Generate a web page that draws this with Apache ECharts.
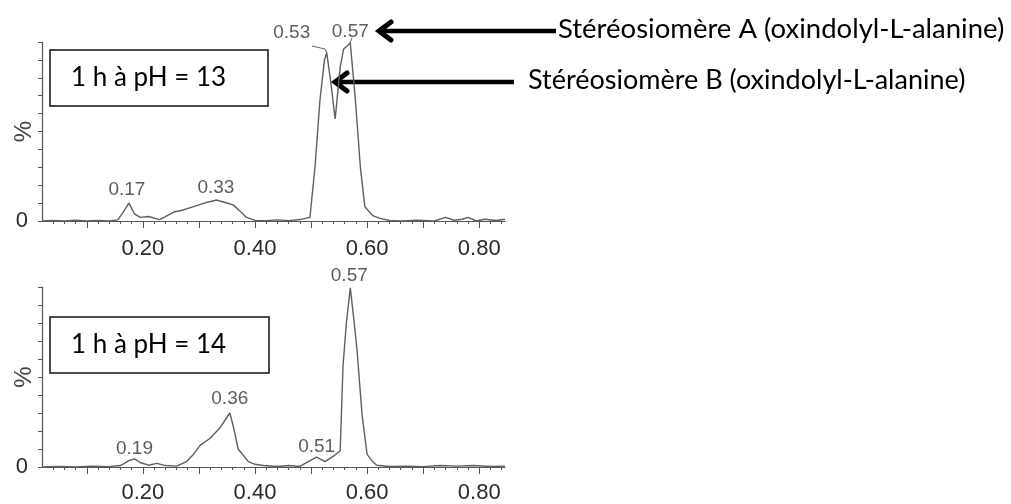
<!DOCTYPE html>
<html>
<head>
<meta charset="utf-8">
<script src="https://cdn.jsdelivr.net/npm/echarts@6/dist/echarts.min.js"></script>
<style>html,body{margin:0;padding:0;background:#fff}#c{width:1011px;height:504px}</style>
</head>
<body>
<div id="c"></div>
<script>
// pH 13 chromatogram (Rf, %)
const topX = [0.02,0.04,0.06,0.08,0.10,0.12,0.14,0.155,0.165,0.175,0.185,0.195,0.21,0.23,0.24,0.255,0.27,0.285,0.30,0.315,0.332,0.345,0.361,0.375,0.385,0.40,0.42,0.44,0.46,0.48,0.498,0.507,0.516,0.524,0.528,0.535,0.543,0.552,0.558,0.57,0.579,0.588,0.596,0.61,0.623,0.64,0.66,0.69,0.72,0.74,0.755,0.77,0.78,0.795,0.81,0.83,0.846];
const topY = [0,0.3,0,0.4,0,0.3,0,0.6,5,10,4,2,2.5,0.8,2.5,5,6,7.5,9,10.5,11.7,10.5,9,5,2,0.3,0.2,0.6,0.2,0.8,2,30,68,90,94,78,57,86,96,99.4,68,30,8,3,1.5,0.3,0,0.4,0,2,0.4,1,2,0,1,0.3,1];
// pH 14 chromatogram
const botX = [0.02,0.05,0.08,0.11,0.14,0.16,0.175,0.185,0.195,0.21,0.225,0.24,0.26,0.278,0.29,0.302,0.32,0.338,0.355,0.361,0.37,0.388,0.40,0.415,0.44,0.46,0.48,0.495,0.51,0.525,0.54,0.552,0.557,0.563,0.57,0.577,0.582,0.591,0.60,0.61,0.617,0.64,0.67,0.70,0.73,0.76,0.79,0.82,0.846];
const botY = [0,0.3,0,0.4,0.2,0.8,3.5,4.5,2.5,1,2,0.8,0.5,3,7,12,16,22,30,23,10,3,1.5,0.8,0.3,0.8,0.3,3,5.5,3,6,9,56,80,99.5,80,65,29,7,3,1,0.3,0.5,0.2,0.8,0.5,0.8,0.3,0.5];
// peak annotations
const topPeakX = [0.175,0.332,0.528,0.57];
const topPeakY = [10,11.7,94,99.4];
const topPeakLabels = ['0.17','0.33','0.53','0.57'];
const botPeakX = [0.185,0.355,0.51,0.57];
const botPeakY = [4.5,30,5.5,99.5];
const botPeakLabels = ['0.19','0.36','0.51','0.57'];
// axis ticks
const xLabelValues = [0.2,0.4,0.6,0.8];
const xMidTicks = [0.1,0.2,0.3,0.4,0.5,0.6,0.7,0.8];
const xMinorTicks = [0.04,0.06,0.08,0.12,0.14,0.16,0.18,0.22,0.24,0.26,0.28,0.32,0.34,0.36,0.38,0.42,0.44,0.46,0.48,0.52,0.54,0.56,0.58,0.62,0.64,0.66,0.68,0.72,0.74,0.76,0.78,0.82,0.84];
const yTicks = [0,10,20,30,40,50,60,70,80,90,100];
const boxTexts = ['1 h à pH = 13','1 h à pH = 14'];
const calloutA = 'Stéréosiomère A (oxindolyl-L-alanine)';
const calloutB = 'Stéréosiomère B (oxindolyl-L-alanine)';

const topOffsets = [[-2,-13],[-1,-12],[-35,-20],[0,-11]];
const botOffsets = [[0,-10],[0,-14],[0,-10],[-1,-12]];

const AX = '#555';
const NUMFONT = 'Liberation Sans';
function xMain(g){
  return {gridIndex:g,type:'value',min:0.02,max:0.846,
    axisLine:{show:true,lineStyle:{color:AX,width:1.2}},
    axisTick:{show:true,customValues:xMidTicks,length:7,lineStyle:{color:AX}},
    axisLabel:{show:true,customValues:xLabelValues,margin:g===0?17:15,fontFamily:NUMFONT,fontSize:22,color:'#2a2a2a',
      formatter:v=>v.toFixed(2)},
    splitLine:{show:false}};
}
function xMinor(g){
  return {gridIndex:g,type:'value',min:0.02,max:0.846,position:'bottom',
    axisLine:{show:false},
    axisTick:{show:true,customValues:xMinorTicks,length:3,lineStyle:{color:AX}},
    axisLabel:{show:false},splitLine:{show:false}};
}
function yAx(g){
  return {gridIndex:g,type:'value',min:0,max:100,
    axisLine:{show:true,lineStyle:{color:AX,width:1.2}},
    axisTick:{show:true,customValues:yTicks,length:4,lineStyle:{color:AX}},
    axisLabel:{show:true,customValues:[0],margin:14,fontFamily:NUMFONT,fontSize:22,color:'#2a2a2a'},
    splitLine:{show:false},
    name:'%',nameLocation:'middle',nameRotate:90,nameGap:6,nameMoveOverlap:false,
    nameTextStyle:{fontFamily:NUMFONT,fontSize:24,color:'#444'}};
}
function zip(a,b){return a.map((v,i)=>[v,b[i]]);}
function peakSeries(xi,yi,xs,ys,labels,offs){
  return {type:'scatter',xAxisIndex:xi,yAxisIndex:yi,symbolSize:1,itemStyle:{color:'rgba(0,0,0,0)'},silent:true,
    data:xs.map((x,i)=>({name:labels[i],value:[x,ys[i]],
      label:{show:true,position:'inside',offset:offs[i],formatter:'{b}',fontFamily:NUMFONT,fontSize:19,color:'#333'}}))};
}
const chart = echarts.init(document.getElementById('c'),null,{renderer:'canvas'});
const LINEC = '#5e5e5e';
chart.setOption({
  backgroundColor:'#fff',
  animation:false,
  grid:[{left:42,top:42,width:463,height:179},{left:42,top:287,width:463,height:182}],
  xAxis:[xMain(0),xMinor(0),xMain(1),xMinor(1)],
  yAxis:[yAx(0),yAx(1)],
  series:[
    {type:'line',xAxisIndex:0,yAxisIndex:0,showSymbol:false,data:zip(topX,topY),lineStyle:{color:LINEC,width:1.4}},
    {type:'line',xAxisIndex:2,yAxisIndex:1,showSymbol:false,data:zip(botX,botY),lineStyle:{color:LINEC,width:1.4}},
    peakSeries(0,0,topPeakX,topPeakY,topPeakLabels,topOffsets),
    peakSeries(2,1,botPeakX,botPeakY,botPeakLabels,botOffsets)
  ],
  graphic:[
    // leader lines
    {type:'polyline',shape:{points:[[312,46],[325,49],[327,53]]},style:{stroke:'#666',lineWidth:1,fill:null}},
    {type:'polyline',shape:{points:[[352,38],[350,43]]},style:{stroke:'#666',lineWidth:1,fill:null}},
    // boxes
    {type:'rect',shape:{x:50,y:50,width:218,height:56},style:{fill:'#fff',stroke:'#111',lineWidth:1.5}},
    {type:'text',x:71,y:78,style:{text:boxTexts[0],font:'26px Lato',fill:'#000',textVerticalAlign:'middle'}},
    {type:'rect',shape:{x:50,y:317,width:219,height:56},style:{fill:'#fff',stroke:'#111',lineWidth:1.5}},
    {type:'text',x:71,y:345,style:{text:boxTexts[1],font:'26px Lato',fill:'#000',textVerticalAlign:'middle'}},
    // arrows
    {type:'line',shape:{x1:381,y1:31,x2:556,y2:31},style:{stroke:'#000',lineWidth:4.5}},
    {type:'polyline',shape:{points:[[391,22],[379,31],[391,40]]},style:{stroke:'#000',lineWidth:5,fill:null,lineCap:'round',lineJoin:'miter'}},
    {type:'line',shape:{x1:336,y1:82,x2:514,y2:82},style:{stroke:'#000',lineWidth:4.5}},
    {type:'polyline',shape:{points:[[347,73],[335,82],[347,91]]},style:{stroke:'#000',lineWidth:5,fill:null,lineCap:'round',lineJoin:'miter'}},
    {type:'text',x:558,y:29,style:{text:calloutA,font:'27.5px Lato',fill:'#000',textVerticalAlign:'middle'}},
    {type:'text',x:528,y:80,style:{text:calloutB,font:'27px Lato',fill:'#000',textVerticalAlign:'middle'}}
  ]
});
</script>
</body>
</html>
